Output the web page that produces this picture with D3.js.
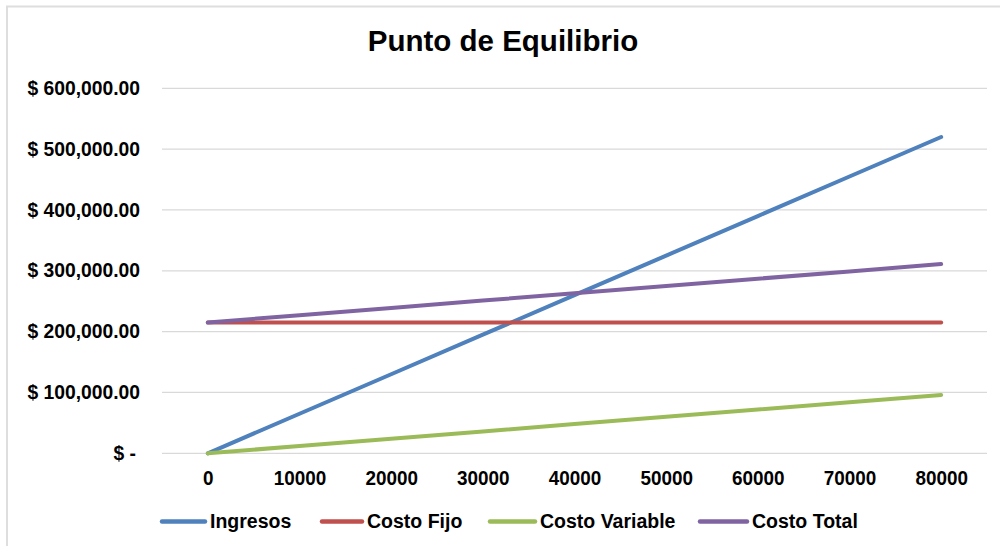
<!DOCTYPE html>
<html>
<head>
<meta charset="utf-8">
<script src="https://cdn.jsdelivr.net/npm/d3@7"></script>
<style>
  html, body { margin: 0; padding: 0; background: #fff; }
  svg { display: block; }
  text { font-family: "Liberation Sans", Arial, sans-serif; font-weight: bold; fill: #000; }
</style>
</head>
<body>
<svg id="chart" width="1000" height="546"></svg>
<script>
// Units sold (category axis)
const unidades = ["0", "10000", "20000", "30000", "40000", "50000", "60000", "70000", "80000"];

// Series values in dollars
const ingresos      = [0, 65000, 130000, 195000, 260000, 325000, 390000, 455000, 520000];
const costoFijo     = [215000, 215000, 215000, 215000, 215000, 215000, 215000, 215000, 215000];
const costoVariable = [0, 12000, 24000, 36000, 48000, 60000, 72000, 84000, 96000];
const costoTotal    = [215000, 227000, 239000, 251000, 263000, 275000, 287000, 299000, 311000];

// Y axis ticks
const yTicks = [0, 100000, 200000, 300000, 400000, 500000, 600000];

const seriesNames  = ["Ingresos", "Costo Fijo", "Costo Variable", "Costo Total"];
const seriesColors = ["#4F81BD", "#C0504D", "#9BBB59", "#8064A2"];
const seriesValues = [ingresos, costoFijo, costoVariable, costoTotal];

const svg = d3.select("#chart");

// Outer frame (top and left edges)
svg.append("path")
  .attr("d", "M7,546 V6.5 H1000")
  .attr("fill", "none")
  .attr("stroke", "#dedede")
  .attr("stroke-width", 2);

const plot = { left: 162, right: 987, top: 88.3, bottom: 453.3 };

const x = d3.scalePoint()
  .domain(unidades)
  .range([plot.left, plot.right])
  .padding(0.5);

const y = d3.scaleLinear()
  .domain([0, 600000])
  .range([plot.bottom, plot.top]);

// Title
svg.append("text")
  .attr("x", 503)
  .attr("y", 51)
  .attr("text-anchor", "middle")
  .style("font-size", "29.5px")
  .text("Punto de Equilibrio");

// Gridlines
svg.append("g")
  .selectAll("line")
  .data(yTicks)
  .join("line")
  .attr("x1", plot.left)
  .attr("x2", plot.right)
  .attr("y1", d => y(d))
  .attr("y2", d => y(d))
  .attr("stroke", "#d9d9d9")
  .attr("stroke-width", 1.3);

// Y axis labels (accounting format)
const fmt = d3.format(",.2f");
const yAxis = d3.axisLeft(y)
  .tickValues(yTicks)
  .tickSize(0)
  .tickPadding(0)
  .tickFormat(d => d === 0 ? "$  -" : "$ " + fmt(d));

const yg = svg.append("g")
  .attr("transform", "translate(140,0)")
  .call(yAxis);
yg.select(".domain").remove();
yg.selectAll("text")
  .attr("x", d => d === 0 ? -4 : 0)
  .style("font-size", "19.3px")
  .style("font-family", '"Liberation Sans", Arial, sans-serif');

// X axis labels (slightly condensed)
const xAxis = d3.axisBottom(x).tickSize(0).tickPadding(0);
const xg = svg.append("g")
  .attr("transform", "translate(0,470)")
  .call(xAxis);
xg.select(".domain").remove();
xg.selectAll("text")
  .attr("dy", "0.72em")
  .attr("transform", "scale(0.9,1)")
  .style("font-size", "21px")
  .style("font-family", '"Liberation Sans", Arial, sans-serif');

// Series lines
const line = d3.line()
  .x((d, i) => x(unidades[i]))
  .y(d => y(d));

svg.append("g")
  .selectAll("path")
  .data(seriesValues)
  .join("path")
  .attr("d", d => line(d))
  .attr("fill", "none")
  .attr("stroke", (d, i) => seriesColors[i])
  .attr("stroke-width", 4)
  .attr("stroke-linecap", "round")
  .attr("stroke-linejoin", "round");

// Legend
const legendItems = [
  { lx: 162, tx: 210 },
  { lx: 322, tx: 367 },
  { lx: 490, tx: 540 },
  { lx: 700, tx: 752 }
];
const legend = svg.append("g");
seriesNames.forEach((name, i) => {
  const g = legend.append("g");
  g.append("line")
    .attr("x1", legendItems[i].lx)
    .attr("x2", legendItems[i].tx - 5)
    .attr("y1", 521.5)
    .attr("y2", 521.5)
    .attr("stroke", seriesColors[i])
    .attr("stroke-width", 4.5)
    .attr("stroke-linecap", "round");
  g.append("text")
    .attr("x", legendItems[i].tx)
    .attr("y", 528)
    .style("font-size", "19.5px")
    .text(name);
});
</script>
</body>
</html>
